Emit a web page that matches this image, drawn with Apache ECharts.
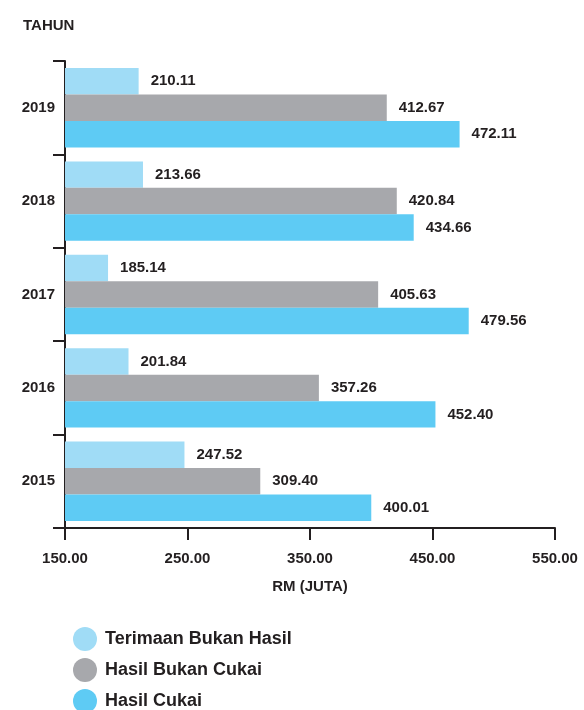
<!DOCTYPE html>
<html>
<head>
<meta charset="utf-8">
<script src="https://cdn.jsdelivr.net/npm/echarts@6/dist/echarts.min.js"></script>
<style>
html,body{margin:0;padding:0;background:#fff;}
#chart{width:584px;height:710px;}
</style>
</head>
<body>
<div id="chart"></div>
<script>
var years = ['2015', '2016', '2017', '2018', '2019'];
var terimaanBukanHasil = [247.52, 201.84, 185.14, 213.66, 210.11];
var hasilBukanCukai = [309.40, 357.26, 405.63, 420.84, 412.67];
var hasilCukai = [400.01, 452.40, 479.56, 434.66, 472.11];
var xTicks = [150, 250, 350, 450, 550];

var dark = '#231f20';
var font = '"Liberation Sans", Arial, sans-serif';

function barSeries(name, data, color){
	return {
		name: name,
		type: 'bar',
		barGap: '0%',
		barCategoryGap: '15%',
		itemStyle: {color: color},
		label: {
			show: true,
			position: 'right',
			distance: 12,
			color: dark,
			fontSize: 15,
			fontWeight: 'bold',
			fontFamily: font,
			formatter: function(p){ return p.value.toFixed(2); }
		},
		data: data
	};
}

var chart = echarts.init(document.getElementById('chart'));
var option = {
	animation: false,
	title: {
		text: 'TAHUN',
		left: 18,
		top: 13,
		textStyle: {color: dark, fontSize: 15, fontWeight: 'bold', fontFamily: font}
	},
	grid: {left: 65, right: 29, top: 61, bottom: 182},
	legend: {
		orient: 'vertical',
		left: 68,
		top: 622,
		height: 100,
		icon: 'circle',
		itemWidth: 24,
		itemHeight: 24,
		itemGap: 7,
		data: ['Terimaan Bukan Hasil', 'Hasil Bukan Cukai', 'Hasil Cukai'],
		textStyle: {color: dark, fontSize: 18, fontWeight: 'bold', fontFamily: font, padding: [0, 0, 0, 3]}
	},
	xAxis: {
		type: 'value',
		min: xTicks[0],
		max: xTicks[xTicks.length - 1],
		interval: 100,
		name: 'RM (JUTA)',
		nameLocation: 'middle',
		nameGap: 51,
		nameTextStyle: {color: dark, fontSize: 15, fontWeight: 'bold', fontFamily: font},
		axisLine: {show: true, lineStyle: {color: dark, width: 2}},
		axisTick: {show: true, length: 12, lineStyle: {color: dark, width: 2}},
		splitLine: {show: false},
		axisLabel: {
			color: dark, fontSize: 15, fontWeight: 'bold', fontFamily: font, margin: 23,
			formatter: function(v){ return v.toFixed(2); }
		}
	},
	yAxis: {
		type: 'category',
		data: years,
		axisLine: {show: true, lineStyle: {color: dark, width: 2}},
		axisTick: {show: true, length: 12, lineStyle: {color: dark, width: 2}},
		axisLabel: {color: dark, fontSize: 15, fontWeight: 'bold', fontFamily: font, margin: 10}
	},
	series: [
		barSeries('Terimaan Bukan Hasil', terimaanBukanHasil, '#a0dcf6'),
		barSeries('Hasil Bukan Cukai', hasilBukanCukai, '#a7a8ac'),
		barSeries('Hasil Cukai', hasilCukai, '#5ecbf4')
	]
};
chart.setOption(option);
</script>
</body>
</html>
